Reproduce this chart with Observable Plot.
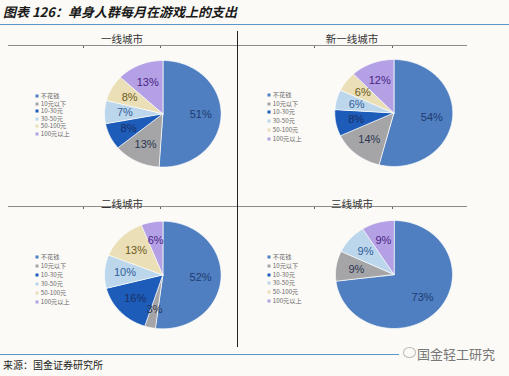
<!DOCTYPE html>
<html><head><meta charset="utf-8">
<script src="https://cdn.jsdelivr.net/npm/d3@7"></script>
<script src="https://cdn.jsdelivr.net/npm/@observablehq/plot@0.6"></script>
<style>
body{margin:0;background:#fbfaf6;}
#root{position:relative;width:509px;height:376px;overflow:hidden;font-family:"Noto Sans CJK SC","Noto Sans",sans-serif;background:#fbfaf6;}
.abs{position:absolute;}
.ptitle{position:absolute;font-size:10.5px;color:#333;transform:translate(-50%,-50%);white-space:nowrap;}
.leg{position:absolute;font-size:6.2px;color:#666;white-space:nowrap;line-height:6.2px;height:6.2px;transform:translateY(-50%);}
.sw{position:absolute;width:3px;height:3px;transform:translate(-50%,-50%);}
svg{overflow:visible;}
</style></head>
<body><div id="root"></div>
<script>
// ---- data ----
const categories = ["不花钱","10元以下","10-30元","30-50元","50-100元","100元以上"];
const cities = ["一线城市","新一线城市","二线城市","三线城市"];
const tier1 = [51,13,8,7,8,13];
const newTier1 = [54,14,8,6,6,12];
const tier2 = [52,3,16,10,13,6];
const tier3 = [73,9,0,9,0,9];
const series = [tier1,newTier1,tier2,tier3];
const titleText = "图表 126：单身人群每月在游戏上的支出";
const sourceText = "来源：国金证券研究所";
const watermark = "国金轻工研究";

// ---- styles ----
const sliceColors = ["#4f7fc0","#a5a5a7","#1d5cb8","#bcd6ec","#eadfb6","#b4a0e4"];
const labelColors = ["#1f3b70","#2b3550","#1a2f66","#2f5d9a","#6d5a1c","#4a2585"];

// ---- layout ----
const W = 509, H = 376;
const pies = [
  {cx:162.3, cy:113.3, rx:58.3, ry:53.3, tx:122, ty:38, lx:37.3, ly:96, ls:7.6},
  {cx:393.3, cy:112.5, rx:59, ry:53.5, tx:352, ty:38, lx:269.3, ly:95, ls:8.7},
  {cx:162.3, cy:274.5, rx:58.3, ry:53.8, tx:122, ty:203, lx:37.3, ly:256.7, ls:9},
  {cx:393.5, cy:274, rx:58.5, ry:54, tx:352, ty:203, lx:269.3, ly:256.7, ls:8.9}
];

const root = document.getElementById("root");
function addDiv(cls, style, text){
  const d = document.createElement("div");
  d.className = cls; d.setAttribute("style", style);
  if (text != null) d.textContent = text;
  root.appendChild(d); return d;
}

// title + lines
addDiv("abs","left:3px;top:2px;font-size:13px;font-weight:bold;font-style:italic;color:#1a1a1a;white-space:nowrap;", titleText);
addDiv("abs","left:0;top:24px;width:509px;height:1.3px;background:#5b97c9;");
addDiv("abs","left:8px;top:45px;width:459px;height:1px;background:#8c8c8c;");
addDiv("abs","left:8px;top:206px;width:459px;height:1px;background:#8c8c8c;");
for (const y of [46,207]) for (const x of [83,160,314,392]) addDiv("abs",`left:${x}px;top:${y}px;width:1px;height:2px;background:#666;`);
addDiv("abs","left:237px;top:31px;width:1px;height:316px;background:#222;");
addDiv("abs","left:0;top:354px;width:399px;height:1.3px;background:#5b97c9;");
addDiv("abs","left:3px;top:357px;font-size:10px;color:#222;white-space:nowrap;", sourceText);
addDiv("abs","left:403px;top:347px;width:11px;height:9px;border:1px solid #bbb;border-radius:50%;");
addDiv("abs","left:417px;top:344px;font-size:13px;color:#777;white-space:nowrap;", watermark);

// panels
function pieData(values){
  const total = d3.sum(values);
  const pts = [], labels = [];
  let a0 = 0;
  values.forEach((v,i)=>{
    if (v <= 0) return;
    const a1 = a0 + v/total*2*Math.PI;
    const n = Math.max(2, Math.ceil((a1-a0)/(Math.PI/180)));
    pts.push({cat:categories[i], x:0, y:0});
    for (let k=0;k<=n;k++){const a=a0+(a1-a0)*k/n; pts.push({cat:categories[i], x:Math.sin(a), y:Math.cos(a)});}
    const m = (a0+a1)/2, f = 0.65;
    labels.push({cat:categories[i], i, x:f*Math.sin(m), y:f*Math.cos(m), text:v+"%"});
    a0 = a1;
  });
  return {pts, labels};
}

pies.forEach((p, pi)=>{
  addDiv("ptitle", `left:${p.tx}px;top:${p.ty}px;`, cities[pi]);
  categories.forEach((c,i)=>{
    const y = p.ly + i*p.ls;
    addDiv("sw", `left:${p.lx}px;top:${y}px;background:${sliceColors[i]};`);
    addDiv("leg", `left:${p.lx+3.5}px;top:${y}px;`, c);
  });
  const {pts, labels} = pieData(series[pi]);
  const chart = Plot.plot({
    width: W, height: H,
    marginLeft: p.cx - p.rx, marginRight: W - (p.cx + p.rx),
    marginTop: p.cy - p.ry, marginBottom: H - (p.cy + p.ry),
    x: {domain:[-1,1], axis:null},
    y: {domain:[-1,1], axis:null},
    color: {domain: categories, range: sliceColors},
    style: {background:"transparent", overflow:"visible"},
    marks: [
      Plot.line(pts, {x:"x", y:"y", z:"cat", fill:"cat", stroke:"#ffffff", strokeWidth:0.7, curve:"linear-closed"}),
      ...categories.map((c,i)=>Plot.text(labels.filter(d=>d.i===i), {x:"x", y:"y", text:"text", fill:labelColors[i], fontSize:11, fontFamily:"Liberation Sans, Arial, sans-serif"}))
    ]
  });
  chart.setAttribute("style", "position:absolute;left:0;top:0;background:transparent;overflow:visible;pointer-events:none;");
  root.appendChild(chart);
});
</script>
</body></html>
